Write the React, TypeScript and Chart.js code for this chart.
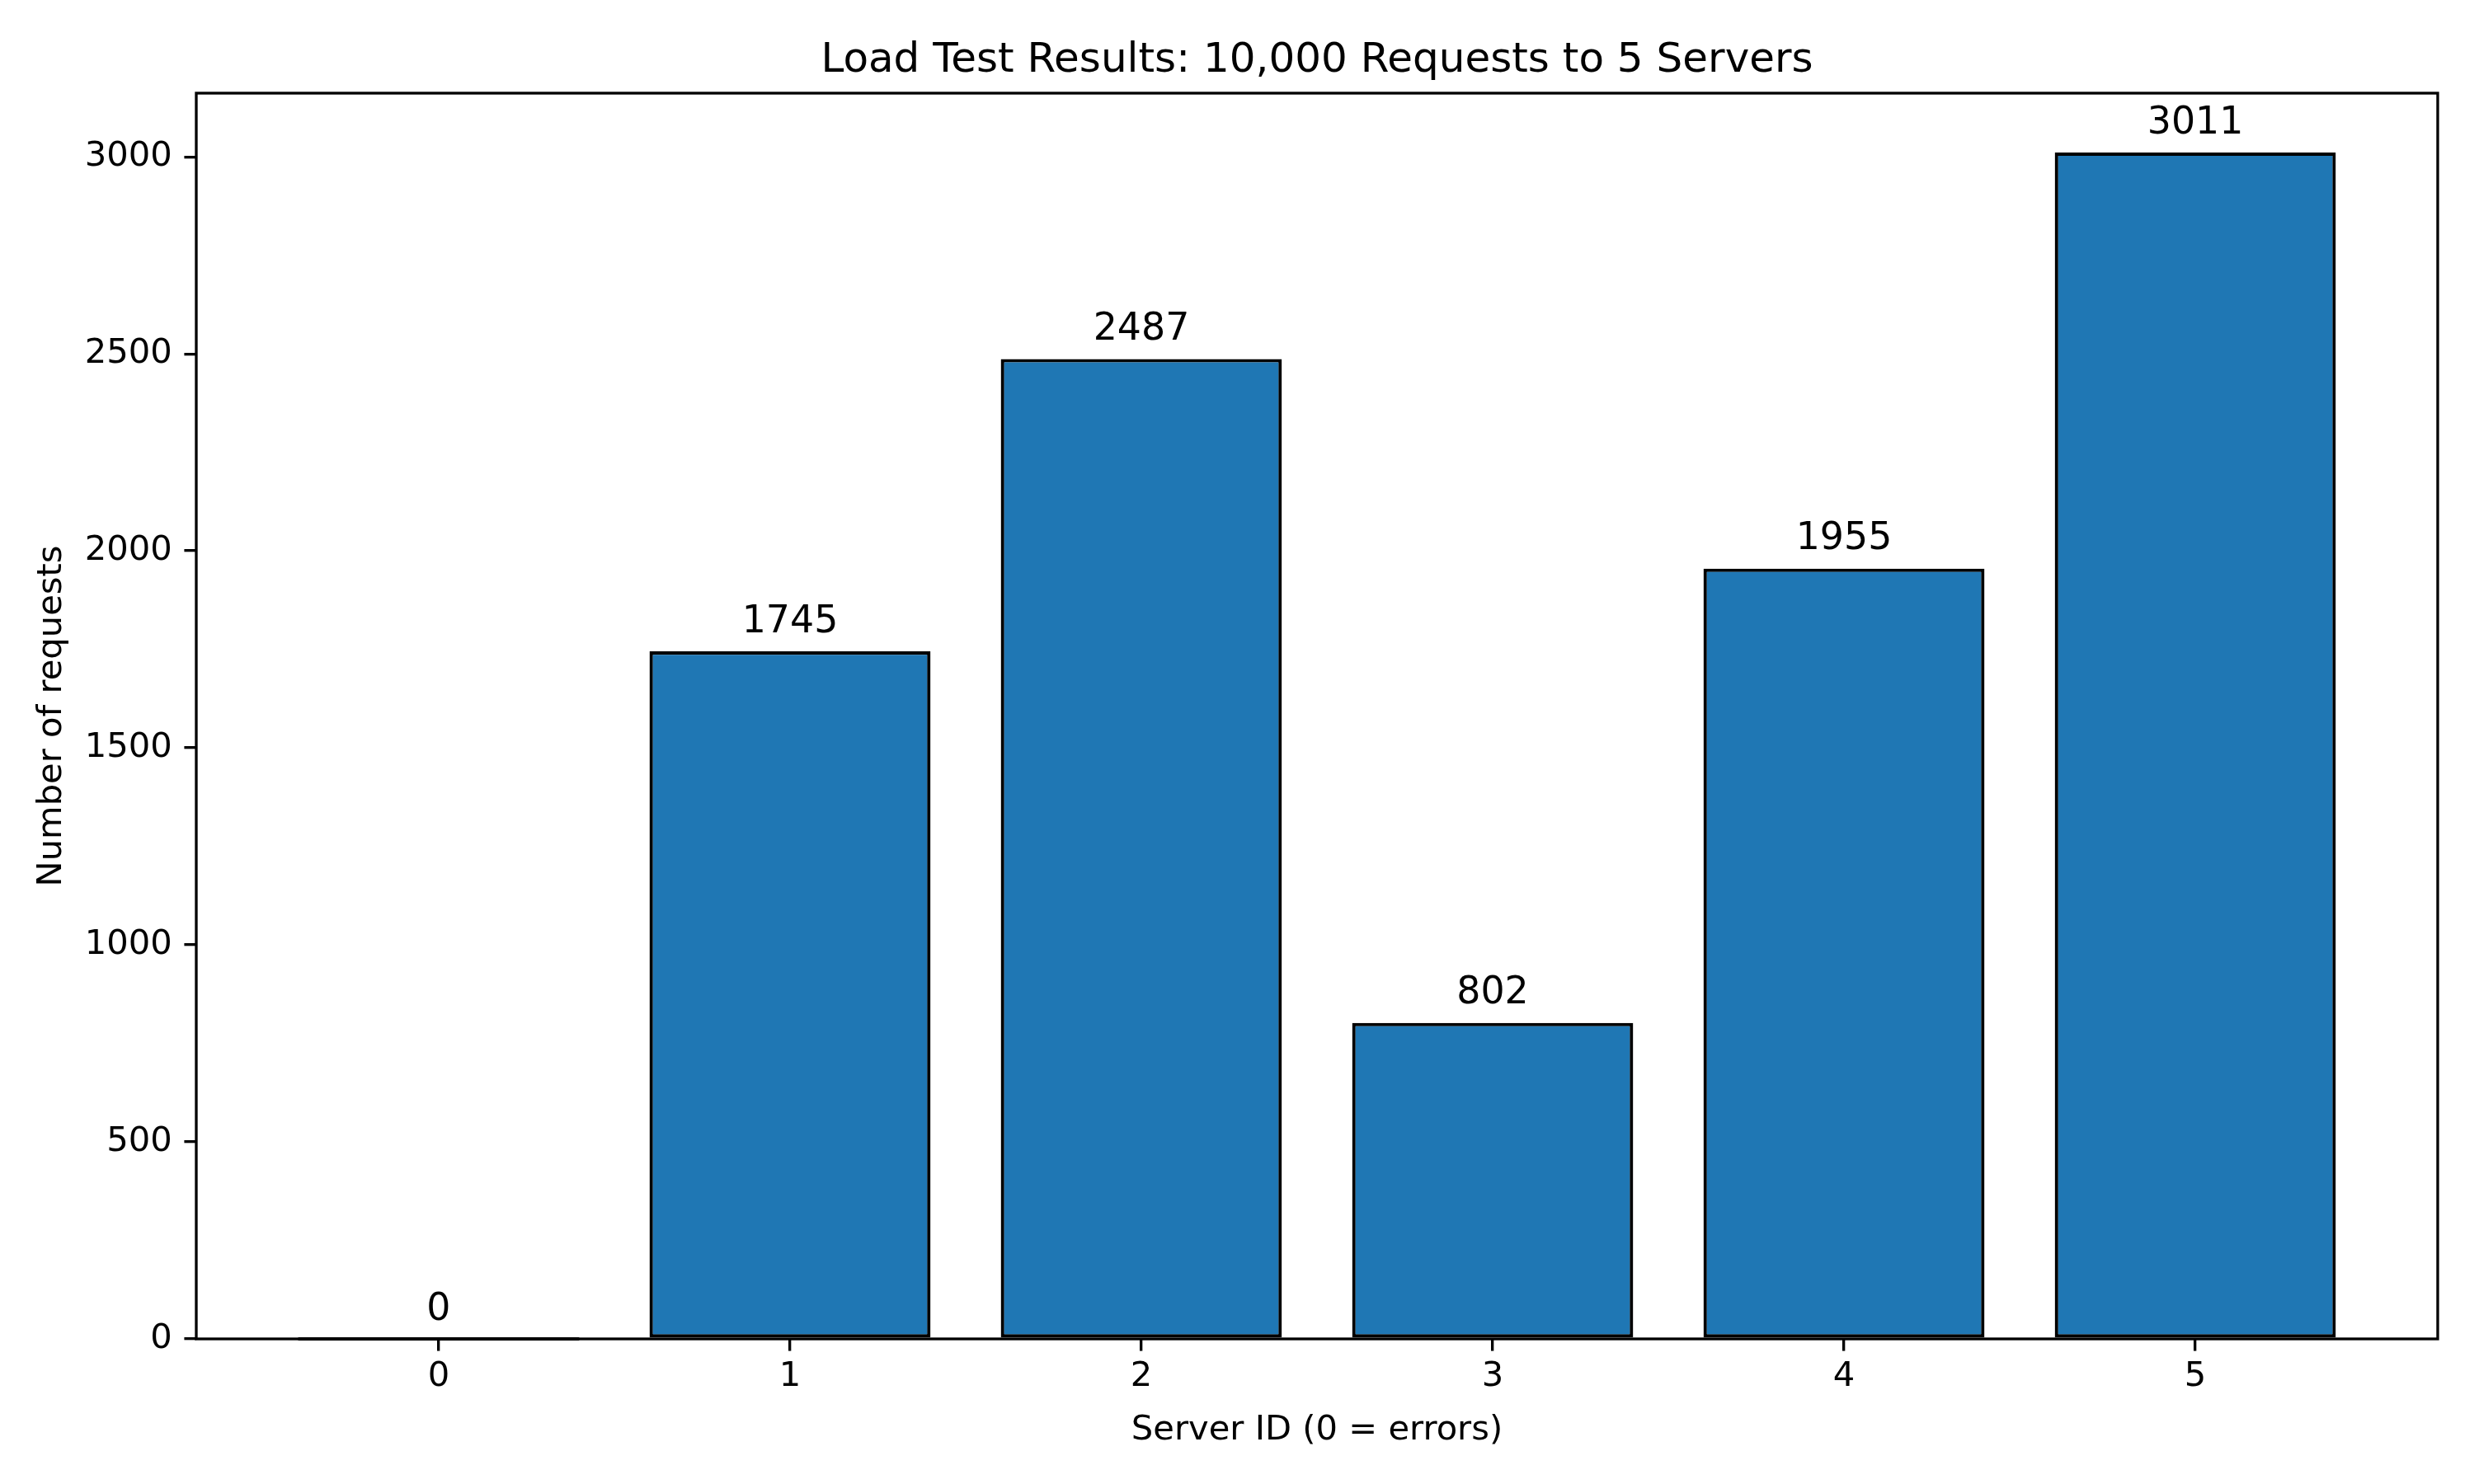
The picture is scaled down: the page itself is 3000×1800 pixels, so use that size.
import React, { useEffect, useRef } from 'react';
import { Chart, registerables } from 'chart.js';

Chart.register(...registerables);

// ---- data ----
const serverIds = [0, 1, 2, 3, 4, 5];
const requestCounts = [0, 1745, 2487, 802, 1955, 3011];
const xTickValues = [0, 1, 2, 3, 4, 5];
const yTickValues = [0, 500, 1000, 1500, 2000, 2500, 3000];
const titleText = 'Load Test Results: 10,000 Requests to 5 Servers';
const xAxisTitle = 'Server ID (0 = errors)';
const yAxisTitle = 'Number of requests';

const PT = 300 / 72;
const FONT = "'DejaVu Sans', sans-serif";
const SMALL = 10 * PT;
const MEDIUM = 11 * PT;
const LARGE = 12 * PT;
const LINE = 0.8 * PT;
const W = 3000;
const H = 1800;

const framePlugin = {
  id: 'frame',
  afterDatasetsDraw(chart: any) {
    const { ctx, chartArea } = chart;
    const meta = chart.getDatasetMeta(0);
    ctx.save();
    // zero-height bars still show their edge, as in the reference
    ctx.strokeStyle = '#000';
    ctx.lineWidth = 1 * PT;
    meta.data.forEach((bar: any, i: number) => {
      if (requestCounts[i] === 0) {
        ctx.beginPath();
        ctx.moveTo(bar.x - bar.width / 2, bar.y);
        ctx.lineTo(bar.x + bar.width / 2, bar.y);
        ctx.stroke();
      }
    });
    ctx.lineWidth = LINE;
    ctx.strokeRect(chartArea.left, chartArea.top, chartArea.right - chartArea.left, chartArea.bottom - chartArea.top);
    ctx.restore();
  },
};

const barLabelPlugin = {
  id: 'barLabels',
  afterDraw(chart: any) {
    const { ctx } = chart;
    const meta = chart.getDatasetMeta(0);
    ctx.save();
    ctx.fillStyle = '#000';
    ctx.font = `${MEDIUM}px ${FONT}`;
    ctx.textAlign = 'center';
    ctx.textBaseline = 'alphabetic';
    meta.data.forEach((bar: any, i: number) => {
      const v = requestCounts[i];
      ctx.fillText(String(v), bar.x, bar.y - 3 * PT - 0.236 * MEDIUM);
    });
    ctx.restore();
  },
};

export default function App() {
  const ref = useRef<HTMLCanvasElement>(null);
  useEffect(() => {
    if (!ref.current) return;
    const yMax = Math.max(...requestCounts) * 1.05;
    const chart = new Chart(ref.current, {
      type: 'bar',
      data: {
        datasets: [
          {
            data: serverIds.map((id, i) => ({ x: id, y: requestCounts[i] })),
            backgroundColor: '#1f77b4',
            borderColor: '#000',
            borderWidth: 1 * PT,
            borderSkipped: false,
            barPercentage: 0.8,
            categoryPercentage: 1,
          },
        ],
      },
      options: {
        animation: false,
        responsive: false,
        devicePixelRatio: 1,
        layout: { padding: { left: 0, right: 44, top: 0, bottom: 0 } },
        plugins: {
          legend: { display: false },
          tooltip: { enabled: false },
          title: {
            display: true,
            fullSize: false,
            text: titleText,
            color: '#000',
            font: { family: FONT, size: LARGE, weight: 'normal' },
            padding: { top: 44, bottom: 9 },
          },
        },
        scales: {
          x: {
            type: 'linear',
            min: -0.69,
            max: 5.69,
            offset: false,
            grid: {
              offset: false,
              display: true,
              drawOnChartArea: false,
              drawTicks: true,
              tickLength: 3.5 * PT,
              color: '#000',
              lineWidth: LINE,
            },
            border: { display: false },
            ticks: {
              color: '#000',
              font: { family: FONT, size: SMALL },
              padding: 7,
              maxRotation: 0,
              autoSkip: false,
              callback: (v: any) => String(v),
            },
            afterBuildTicks: (scale: any) => {
              scale.ticks = xTickValues.map((v) => ({ value: v }));
            },
            afterFit: (scale: any) => {
              scale.height = H - 1624;
            },
            title: {
              display: true,
              text: xAxisTitle,
              color: '#000',
              font: { family: FONT, size: SMALL },
              padding: { top: 0, bottom: 40 },
            },
          },
          y: {
            type: 'linear',
            min: 0,
            max: yMax,
            grid: {
              display: true,
              drawOnChartArea: false,
              drawTicks: true,
              tickLength: 3.5 * PT,
              color: '#000',
              lineWidth: LINE,
            },
            border: { display: false },
            ticks: {
              color: '#000',
              font: { family: FONT, size: SMALL },
              padding: 3.5 * PT,
              autoSkip: false,
              callback: (v: any) => String(v),
            },
            afterBuildTicks: (scale: any) => {
              scale.ticks = yTickValues.map((v) => ({ value: v }));
            },
            afterFit: (scale: any) => {
              scale.width = 238;
            },
            title: {
              display: true,
              text: yAxisTitle,
              color: '#000',
              font: { family: FONT, size: SMALL },
              padding: { top: 38, bottom: 0 },
            },
          },
        },
      },
      plugins: [framePlugin, barLabelPlugin],
    } as any);
    return () => chart.destroy();
  }, []);
  return (
    <div style={{ position: 'absolute', left: 0, top: 0, width: W, height: H, background: '#fff' }}>
      <canvas ref={ref} width={W} height={H} style={{ display: 'block', width: W, height: H }} />
    </div>
  );
}
